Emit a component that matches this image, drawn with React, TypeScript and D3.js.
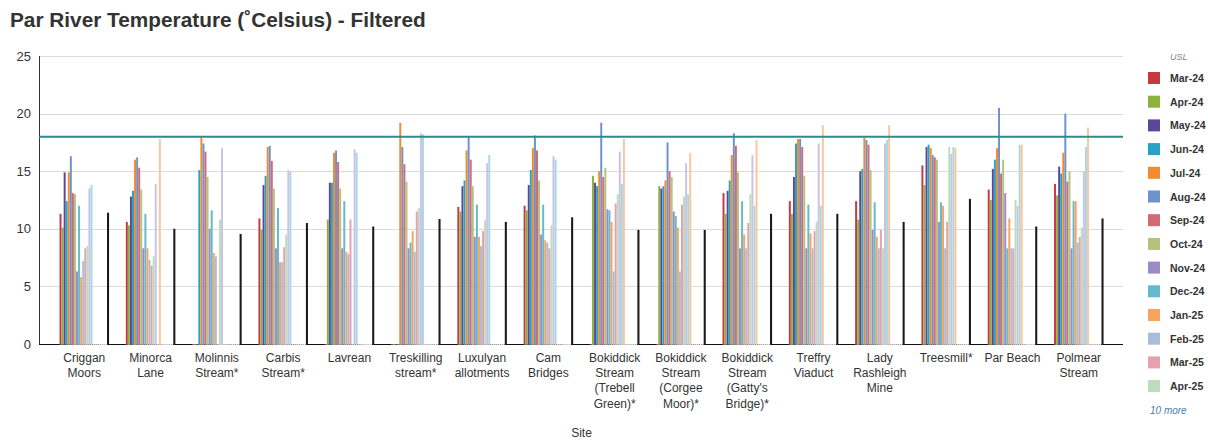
import React from "react";
import * as d3 from "d3";

// ---------- DATA ----------
const sites = [
  "Criggan Moors",
  "Minorca Lane",
  "Molinnis Stream*",
  "Carbis Stream*",
  "Lavrean",
  "Treskilling stream*",
  "Luxulyan allotments",
  "Cam Bridges",
  "Bokiddick Stream (Trebell Green)*",
  "Bokiddick Stream (Corgee Moor)*",
  "Bokiddick Stream (Gatty's Bridge)*",
  "Treffry Viaduct",
  "Lady Rashleigh Mine",
  "Treesmill*",
  "Par Beach",
  "Polmear Stream",
];

const yTicks = [0, 5, 10, 15, 20, 25];
const uslValue = 18;

// monthly temperatures per site (0 = no reading)
const mar24 = [11.3, 10.6, 0, 10.9, 0, 0, 11.9, 12.0, 0, 0, 13.1, 12.4, 12.4, 15.5, 13.4, 13.9];
const apr24 = [10.1, 10.3, 0, 9.9, 10.8, 0, 11.5, 11.6, 14.6, 13.7, 11.3, 11.3, 10.8, 13.8, 12.5, 12.9];
const may24 = [14.9, 12.8, 0, 13.8, 14.0, 0, 13.7, 13.8, 14.0, 13.5, 13.3, 14.5, 15.0, 17.1, 15.2, 15.4];
const jun24 = [12.4, 13.3, 15.1, 14.6, 14.0, 0, 14.2, 15.1, 13.7, 13.7, 14.2, 17.4, 15.2, 17.3, 16.0, 14.8];
const jul24 = [14.9, 16.0, 17.9, 17.1, 16.6, 19.2, 16.8, 17.0, 15.0, 14.2, 16.4, 17.8, 17.9, 17.0, 17.0, 16.6];
const aug24 = [16.3, 16.2, 17.4, 17.2, 16.8, 17.1, 18.0, 18.1, 19.2, 17.5, 18.3, 17.8, 17.7, 16.4, 20.5, 20.0];
const sep24 = [13.1, 15.3, 16.7, 15.9, 15.8, 15.6, 16.0, 16.8, 14.5, 15.0, 17.2, 17.1, 17.3, 16.2, 14.8, 14.1];
const oct24 = [13.0, 13.4, 14.5, 13.5, 13.5, 14.1, 13.7, 14.2, 15.3, 14.5, 14.9, 14.6, 15.1, 16.0, 16.0, 15.0];
const nov24 = [6.3, 8.3, 10.0, 8.3, 8.3, 8.3, 9.3, 9.5, 11.7, 11.5, 8.3, 8.3, 9.9, 10.6, 13.1, 8.3];
const dec24 = [12.0, 11.3, 11.6, 11.8, 12.4, 8.8, 12.1, 12.1, 11.6, 11.1, 12.4, 12.1, 12.3, 12.3, 8.3, 12.4];
const jan25 = [5.8, 8.3, 7.9, 7.1, 8.0, 9.8, 9.3, 9.0, 10.6, 10.1, 9.5, 9.6, 9.3, 12.0, 10.9, 12.4];
const feb25 = [7.2, 7.3, 7.6, 7.1, 7.8, 8.0, 8.5, 8.8, 6.3, 6.3, 8.3, 8.3, 8.3, 8.3, 8.3, 8.8];
const mar25 = [8.3, 6.8, 0, 8.4, 10.8, 11.5, 9.8, 8.3, 12.2, 12.1, 10.5, 9.8, 9.9, 10.6, 8.3, 9.3];
const apr25 = [8.5, 7.6, 10.8, 9.5, 0, 11.8, 10.8, 10.3, 13.0, 12.8, 13.0, 10.6, 8.3, 17.1, 12.5, 10.1];
const may25 = [13.5, 13.9, 17.0, 15.1, 16.9, 18.3, 15.7, 16.3, 16.7, 15.7, 16.4, 17.4, 17.4, 16.5, 12.0, 15.0];
const jun25 = [13.8, 0, 0, 15.0, 16.6, 18.2, 16.4, 16.0, 13.9, 13.0, 12.0, 12.0, 17.7, 17.1, 17.3, 17.1];
const jul25 = [0, 17.8, 0, 0, 0, 0, 0, 0, 17.8, 16.6, 17.7, 19.0, 19.0, 17.0, 17.3, 18.8];
const average = [11.4, 10.0, 9.55, 10.5, 10.2, 10.85, 10.6, 11.0, 9.9, 9.9, 11.3, 11.3, 10.6, 12.6, 10.2, 10.9];

const seriesNames = [
  "Mar-24", "Apr-24", "May-24", "Jun-24", "Jul-24", "Aug-24", "Sep-24", "Oct-24",
  "Nov-24", "Dec-24", "Jan-25", "Feb-25", "Mar-25", "Apr-25", "May-25", "Jun-25",
  "Jul-25", "Aug-25", "Sep-25", "Oct-25", "Nov-25", "Dec-25", "Jan-26", "Average",
];
const seriesColors = [
  "#c8383f", "#8cb13e", "#5b4797", "#27a3c4", "#f28a2e", "#6c93cb", "#d06a73", "#b3c27c",
  "#9c8bc4", "#65b9cc", "#f6a45e", "#a9bdd9", "#e3a2b0", "#bddcbc", "#cbc2e4", "#a8d8e3",
  "#fbc59a", "#c8d6ea", "#efc3cc", "#d8e9cc", "#ddd6ee", "#c5e6ee", "#fdddc0", "#1a1a1a",
];
const seriesValues: (number[] | null)[] = [
  mar24, apr24, may24, jun24, jul24, aug24, sep24, oct24, nov24, dec24, jan25, feb25,
  mar25, apr25, may25, jun25, jul25, null, null, null, null, null, null, average,
];
const legendShown = 14;

// ---------- LAYOUT ----------
const W = 1208;
const H = 443;
const plotLeft = 40;
const plotRight = 1123;
const plotTop = 56;
const plotBottom = 344;
const FONT = "'Liberation Sans', Arial, Helvetica, sans-serif";

let measureCtx: CanvasRenderingContext2D | null = null;
function measure(text: string, font: string) {
  if (!measureCtx) {
    const c = document.createElement("canvas");
    measureCtx = c.getContext("2d");
  }
  if (!measureCtx) return text.length * 6.5;
  measureCtx.font = font;
  return measureCtx.measureText(text).width;
}
function wrap(text: string, maxW: number, font: string) {
  const words = text.split(" ");
  const lines: string[] = [];
  let cur = "";
  for (const w of words) {
    const t = cur ? cur + " " + w : w;
    if (cur && measure(t, font) > maxW) {
      lines.push(cur);
      cur = w;
    } else cur = t;
  }
  if (cur) lines.push(cur);
  return lines;
}

export default function App() {
  const x = d3
    .scaleBand<string>()
    .domain(sites)
    .range([plotLeft, plotRight])
    .paddingInner(0.253)
    .paddingOuter(0.294);
  const xs = d3
    .scaleBand<string>()
    .domain(seriesNames)
    .range([0, x.bandwidth()])
    .padding(0);
  const y = d3.scaleLinear().domain([0, 25]).range([plotBottom, plotTop]);
  const slot = xs.bandwidth();
  const labelFont = `12px ${FONT}`;

  return (
    <svg
      width={W}
      height={H}
      style={{ position: "absolute", left: 0, top: 0, background: "#fff" }}
      fontFamily={FONT}
    >
      <rect x={0} y={0} width={W} height={H} fill="#fff" />
      <text x={10} y={27} fontSize={20.8} fontWeight="bold" fill="#333">
        Par River Temperature (˚Celsius) - Filtered
      </text>

      {/* grid */}
      {yTicks.map((t) => (
        <g key={t}>
          {t > 0 && (
            <line
              x1={plotLeft}
              x2={plotRight}
              y1={Math.round(y(t)) + 0.5}
              y2={Math.round(y(t)) + 0.5}
              stroke="#dcdcdc"
              strokeWidth={1}
            />
          )}
          <text
            x={31}
            y={y(t)}
            textAnchor="end"
            dominantBaseline="central"
            fontSize={13}
            fill="#333"
          >
            {t}
          </text>
        </g>
      ))}

      {/* axes */}
      <line x1={39.5} x2={39.5} y1={plotTop} y2={plotBottom + 0.5} stroke="#333" />
      <line x1={39} x2={plotRight} y1={plotBottom + 0.5} y2={plotBottom + 0.5} stroke="#111" />

      {/* bars */}
      {sites.map((s, si) => (
        <g key={s} transform={`translate(${x(s)},0)`}>
          {seriesNames.map((name, k) => {
            const vals = seriesValues[k];
            const v = vals ? vals[si] : 0;
            const bx = (xs(name) as number) + 0.05;
            const bw = k === 23 ? slot : slot - 0.1;
            if (!v) {
              return (
                <rect
                  key={name}
                  x={bx}
                  y={plotBottom}
                  width={bw}
                  height={1}
                  fill={seriesColors[k]}
                />
              );
            }
            return (
              <rect
                key={name}
                x={bx}
                y={y(v)}
                width={bw}
                height={plotBottom + 1 - y(v)}
                fill={seriesColors[k]}
              />
            );
          })}
        </g>
      ))}

      {/* USL line */}
      <line
        x1={39}
        x2={plotRight}
        y1={y(uslValue)}
        y2={y(uslValue)}
        stroke="#2e8a8d"
        strokeWidth={2}
      />

      {/* x labels */}
      {sites.map((s) => {
        const cx = (x(s) as number) + x.bandwidth() / 2;
        const lines = wrap(s, 62, labelFont);
        return (
          <text key={s} textAnchor="middle" fontSize={12} fill="#333">
            {lines.map((l, i) => (
              <tspan key={i} x={cx} y={362 + i * 15.2}>
                {l}
              </tspan>
            ))}
          </text>
        );
      })}
      <text x={(plotLeft + plotRight) / 2} y={437} textAnchor="middle" fontSize={12} fill="#333">
        Site
      </text>

      {/* legend */}
      <text x={1170} y={60} fontSize={9} fontStyle="italic" fill="#888">
        USL
      </text>
      {seriesNames.slice(0, legendShown).map((name, i) => {
        const cy = 78 + i * 23.7;
        return (
          <g key={name}>
            <rect x={1148} y={cy - 6} width={12} height={12} fill={seriesColors[i]} />
            <text
              x={1170}
              y={cy}
              dominantBaseline="central"
              fontSize={10.5}
              fontWeight="bold"
              fill="#333"
            >
              {name}
            </text>
          </g>
        );
      })}
      <text x={1150} y={414} fontSize={10} fontStyle="italic" fill="#4b7bb0">
        {`${seriesNames.length - legendShown} more`}
      </text>
    </svg>
  );
}
